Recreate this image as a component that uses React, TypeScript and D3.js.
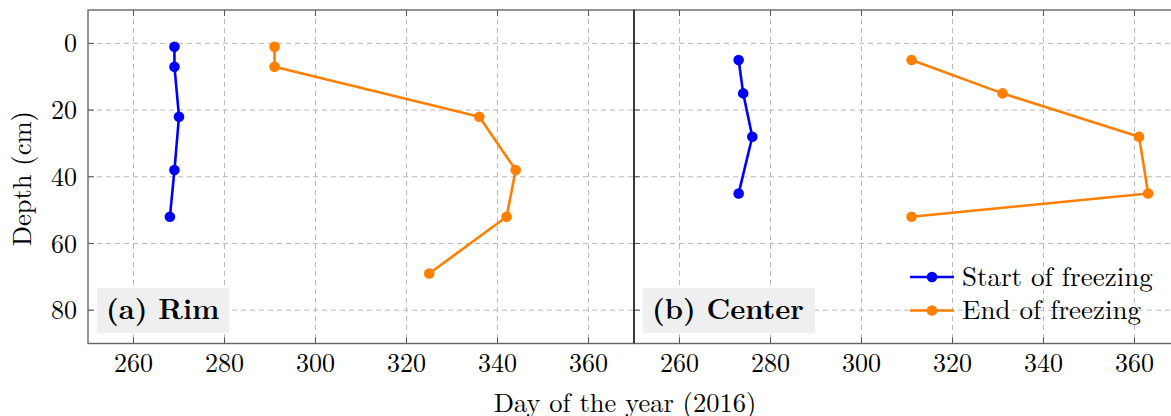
import React from "react";
import * as d3 from "d3";

const xTicks = [260, 280, 300, 320, 340, 360];
const yTicks = [0, 20, 40, 60, 80];

const rimStartDay = [269, 269, 270, 269, 268];
const rimStartDepth = [1, 7, 22, 38, 52];
const rimEndDay = [291, 291, 336, 344, 342, 325];
const rimEndDepth = [1, 7, 22, 38, 52, 69];

const centerStartDay = [273, 274, 276, 273];
const centerStartDepth = [5, 15, 28, 45];
const centerEndDay = [311, 331, 361, 363, 311];
const centerEndDepth = [5, 15, 28, 45, 52];

const panelLabels = ["(a) Rim", "(b) Center"];
const seriesNames = ["Start of freezing", "End of freezing"];
const BLUE = "#0000ff";
const ORANGE = "#ff7f00";

const W = 1171, H = 416;
const top = 10, bottom = 343.5;
const panels = [
  { x0: 88, x1: 634, start: [rimStartDay, rimStartDepth], end: [rimEndDay, rimEndDepth], label: panelLabels[0], boxW: 132 },
  { x0: 634, x1: 1180, start: [centerStartDay, centerStartDepth], end: [centerEndDay, centerEndDepth], label: panelLabels[1], boxW: 172 },
];
const FONT = "'Latin Modern Roman', 'Liberation Serif', 'DejaVu Serif', serif";

const y = d3.scaleLinear().domain([-10, 90]).range([top, bottom]);

function Series({ xs, ys, x, color }: any) {
  const pts = xs.map((v: number, i: number) => [x(v), y(ys[i])] as [number, number]);
  const line = d3.line()(pts) || "";
  return (
    <g>
      <path d={line} fill="none" stroke={color} strokeWidth={2.6} strokeLinejoin="round" />
      {pts.map((p: any, i: number) => (
        <circle key={i} cx={p[0]} cy={p[1]} r={5.3} fill={color} />
      ))}
    </g>
  );
}

export default function App() {
  return (
    <svg width={W} height={H} style={{ position: "absolute", left: 0, top: 0, background: "#fff" }} fontFamily={FONT}>
      {panels.map((p, pi) => {
        const x = d3.scaleLinear().domain([250, 370]).range([p.x0, p.x1]);
        return (
          <g key={pi}>
            {xTicks.map((t) => (
              <line key={"gx" + t} x1={x(t)} x2={x(t)} y1={top} y2={bottom} stroke="#b8b8b8" strokeWidth={1} strokeDasharray="5,4" />
            ))}
            {yTicks.map((t) => (
              <line key={"gy" + t} x1={p.x0} x2={p.x1} y1={y(t)} y2={y(t)} stroke="#b8b8b8" strokeWidth={1} strokeDasharray="5,4" />
            ))}
            {xTicks.map((t) => (
              <g key={"tx" + t}>
                <line x1={x(t)} x2={x(t)} y1={bottom} y2={bottom - 6} stroke="#555" strokeWidth={1} />
                <line x1={x(t)} x2={x(t)} y1={top} y2={top + 6} stroke="#555" strokeWidth={1} />
                <text x={x(t)} y={372} textAnchor="middle" fontSize={26} fill="#000">{t}</text>
              </g>
            ))}
            {yTicks.map((t) => (
              <g key={"ty" + t}>
                <line x1={p.x0} x2={p.x0 + 6} y1={y(t)} y2={y(t)} stroke="#555" strokeWidth={1} />
              </g>
            ))}
            <rect x={p.x0 + 9} y={288} width={p.boxW} height={45} fill="#efefef" />
            <text x={p.x0 + 18} y={319} fontSize={28.5} fontWeight="bold" fill="#000">{p.label}</text>
            <Series xs={p.start[0]} ys={p.start[1]} x={x} color={BLUE} />
            <Series xs={p.end[0]} ys={p.end[1]} x={x} color={ORANGE} />
          </g>
        );
      })}
      {yTicks.map((t) => (
        <text key={"yl" + t} x={77} y={y(t)} dy="0.35em" textAnchor="end" fontSize={26} fill="#000">{t}</text>
      ))}
      <rect x={88} y={top} width={546} height={bottom - top} fill="none" stroke="#666" strokeWidth={1.4} />
      <rect x={634} y={top} width={560} height={bottom - top} fill="none" stroke="#666" strokeWidth={1.4} />
      <line x1={634} x2={634} y1={top} y2={bottom} stroke="#222" strokeWidth={1.4} />
      <text transform={`translate(31,${(top + bottom) / 2 + 2}) rotate(-90)`} textAnchor="middle" fontSize={26.5} fill="#000">Depth (cm)</text>
      <text x={625} y={412} textAnchor="middle" fontSize={26.5} fill="#000">Day of the year (2016)</text>
      {seriesNames.map((n, i) => {
        const cy = 277 + i * 33.5;
        const c = i === 0 ? BLUE : ORANGE;
        return (
          <g key={n}>
            <line x1={910} x2={954} y1={cy} y2={cy} stroke={c} strokeWidth={2.6} />
            <circle cx={932} cy={cy} r={5.3} fill={c} />
            <text x={962} y={cy} dy="0.33em" fontSize={27} fill="#000">{n}</text>
          </g>
        );
      })}
    </svg>
  );
}
